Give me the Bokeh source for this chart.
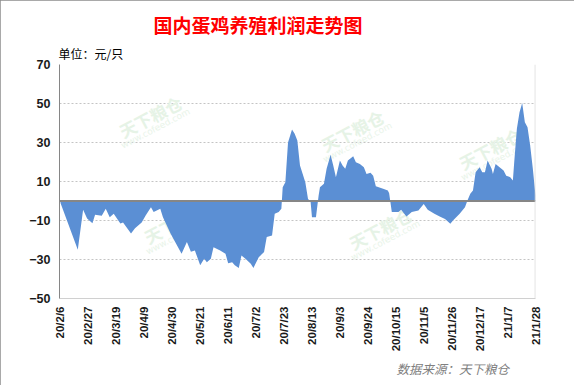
from bokeh.plotting import figure
from bokeh.models import Range1d, FixedTicker, Span, Label, ColumnDataSource, Title
from bokeh.embed import file_html
from bokeh.resources import INLINE
import math

# ---- data (day offset from 2020-02-06, profit in 元/只) ----
day_offsets = [0, 13, 17, 20, 24, 26, 31, 34, 37, 40, 45, 47, 53, 56, 61, 64, 68, 70, 75, 77,
               83, 91, 95, 98, 101, 105, 108, 110, 113, 115, 120, 124, 126, 129, 131, 134, 136, 139,
               143, 145, 149, 153, 155, 159, 161, 164, 166, 167, 169, 171, 174, 176, 178, 180, 184,
               186, 188, 189, 192, 194, 195, 198, 200, 203, 205, 207, 210, 212, 214, 216, 220, 222,
               225, 228, 230, 233, 235, 237, 243, 246, 247, 249, 254, 256, 260, 264, 269, 273, 276,
               281, 285, 289, 293, 295, 300, 304, 306, 308, 310, 312, 315, 317, 319, 321, 324, 325,
               327, 330, 333, 335, 338, 340, 341, 343, 345, 347, 349, 351, 353, 355, 356, 357]
profit = [-1, -25, -4.5, -9, -11.4, -7, -7.5, -4, -8.3, -6.6, -11.6, -11, -16.7, -14, -11, -7.4, -3.2, -5.7, -4, -8.3,
          -17, -27, -21, -26, -25.4, -33, -29.6, -31.4, -29.6, -23.7, -25.4, -27, -31.9, -31.4, -33, -34.3, -28, -29.6,
          -32.2, -34.3, -28.8, -26.2, -18.5, -17.7, -6.6, -5.7, -4, 7, 9.6, 30, 36.7, 34.5, 31, 18.2, 9.6,
          1.1, -0.6, -8.3, -8.3, 2.8, 7, 8.8, 16.5, 23.7, 18.2, 12.2, 20.8, 18.2, 16.5, 20.8, 23, 19.9,
          19, 17.3, 13.9, 14.5, 13, 7.6, 6.2, 5.4, 4, -5.7, -5.7, -4.5, -8, -5.7, -4.9, -1.5, -4.5,
          -6.6, -8, -9.2, -11.7, -10, -6.6, -3.2, 0.5, 3.7, 5.4, 14.8, 17.3, 14.8, 14.8, 20.8, 16.5, 13.9,
          19, 17.3, 15.6, 13, 12.2, 10.5, 19.9, 37, 45.5, 50.3, 40.4, 37.8, 28.5, 16.5, 9.6, 3]

tick_days = [0, 21, 42, 63, 84, 105, 126, 147, 168, 189, 210, 231, 252, 273, 294, 315, 336, 357]
tick_labels = ["20/2/6", "20/2/27", "20/3/19", "20/4/9", "20/4/30", "20/5/21", "20/6/11", "20/7/2",
               "20/7/23", "20/8/13", "20/9/3", "20/9/24", "20/10/15", "20/11/5", "20/11/26",
               "20/12/17", "21/1/7", "21/1/28"]
y_ticks = [-50, -30, -10, 10, 30, 50, 70]

title_text = "国内蛋鸡养殖利润走势图"
unit_text = "单位：元/只"
source_text = "数据来源：天下粮仓"

src = ColumnDataSource(dict(day=day_offsets, profit=profit))

p = figure(title=None, frame_width=476, frame_height=234,
           min_border_left=59, min_border_right=39, min_border_top=64, min_border_bottom=87,
           x_range=Range1d(-0.75, 357), y_range=Range1d(-50, 70),
           output_backend="svg", toolbar_location=None)
p.outline_line_color = None
p.background_fill_color = "white"
p.border_fill_color = "white"
p.styles = {"outline": "1px solid #8c8c8c", "outline-offset": "-1px"}

# watermarks (behind data)
wm = [(150, 116), (352, 130), (490, 148), (175, 222), (380, 228)]
for (X, Y) in wm:
    p.add_layout(Label(x=X - 59, y=298 - Y, x_units="screen", y_units="screen", text="天下粮仓",
                       angle=0.48, text_align="center", text_baseline="middle",
                       text_font="Noto Sans CJK SC", text_font_style="bold", text_font_size="17px",
                       text_color="#e6f3e6", level="underlay"))
    p.add_layout(Label(x=X - 59 + 5, y=298 - Y - 12, x_units="screen", y_units="screen",
                       text="www.cofeed.com", angle=0.48, text_align="center", text_baseline="middle",
                       text_font="DejaVu Sans", text_font_size="9px",
                       text_color="#e9f4e9", level="underlay"))

p.varea(x="day", y1=0, y2="profit", source=src, fill_color="#5B8FD4")

# grid
p.xgrid.visible = False
p.ygrid.ticker = FixedTicker(ticks=[-30, -10, 10, 30, 50])
p.ygrid.grid_line_color = "#c4c4c4"
p.ygrid.grid_line_dash = "2 2"
p.ygrid.grid_line_width = 1

p.add_layout(Span(location=0, dimension="width", line_color="#868686", line_width=2))
p.add_layout(Span(location=356.8, dimension="height", line_color="#d4d4d4", line_width=1))

# axes
p.yaxis.ticker = FixedTicker(ticks=y_ticks)
p.yaxis.axis_line_color = "#868686"
p.yaxis.major_tick_line_color = None
p.yaxis.minor_tick_line_color = None
p.yaxis.major_tick_out = 0
p.yaxis.major_label_standoff = 9
p.yaxis.major_label_text_font = "Liberation Sans"
p.yaxis.major_label_text_font_style = "bold"
p.yaxis.major_label_text_font_size = "12.5px"
p.yaxis.major_label_text_color = "#1a1a1a"

p.xaxis.ticker = FixedTicker(ticks=tick_days)
p.xaxis.major_label_overrides = {d: l for d, l in zip(tick_days, tick_labels)}
p.xaxis.major_label_orientation = math.pi / 2
p.xaxis.axis_line_color = "#d0d0d0"
p.xaxis.major_tick_line_color = None
p.xaxis.minor_tick_line_color = None
p.xaxis.major_tick_out = 0
p.xaxis.major_label_standoff = 8
p.xaxis.major_label_text_font = "Liberation Sans"
p.xaxis.major_label_text_font_style = "bold"
p.xaxis.major_label_text_font_size = "11.5px"
p.xaxis.major_label_text_color = "#1a1a1a"

# texts (titles in side panels)
p.add_layout(Title(text=unit_text, align="left", offset=-1, standoff=5,
                   text_font="Noto Sans CJK SC", text_font_style="normal", text_font_size="12px",
                   text_color="#000000"), "above")
p.add_layout(Title(text=title_text, align="left", offset=94, standoff=6,
                   text_font="Noto Sans CJK SC", text_font_style="bold", text_font_size="19px",
                   text_color="#FF0000"), "above")
p.add_layout(Title(text=source_text, align="left", offset=337, standoff=5,
                   text_font="Noto Sans CJK SC", text_font_style="italic", text_font_size="12.5px",
                   text_color="#808080"), "below")

open("out.html", "w").write(file_html(p, INLINE))
